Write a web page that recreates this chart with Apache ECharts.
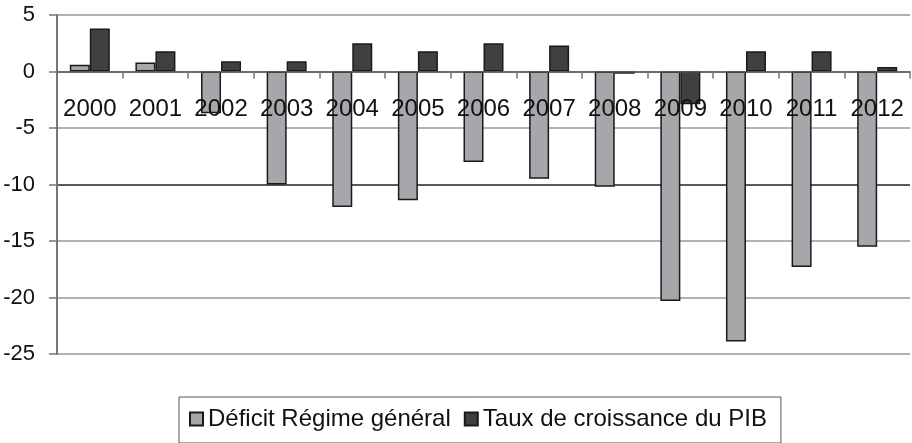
<!DOCTYPE html>
<html style="height: 100%">
   <head>
       <meta charset="utf-8">
   </head>
   <body style="height: 100%; margin: 0; width: 100%; background: #fff;">
       <div id="container" style="height: 100%; width: 100%;"></div>
       <script type="text/javascript" src="https://cdn.jsdelivr.net/npm/echarts@6/dist/echarts.min.js"></script>
       <script type="text/javascript">
var years = ['2000', '2001', '2002', '2003', '2004', '2005', '2006', '2007', '2008', '2009', '2010', '2011', '2012'];
var deficit = [0.6, 0.8, -3.7, -10.0, -12.0, -11.4, -8.0, -9.5, -10.2, -20.3, -23.9, -17.3, -15.5];
var croissance = [3.8, 1.8, 0.9, 0.9, 2.5, 1.8, 2.5, 2.3, -0.2, -2.9, 1.8, 1.8, 0.4];
var seriesNames = ['Déficit Régime général', 'Taux de croissance du PIB'];

var dom = document.getElementById("container");
var myChart = echarts.init(dom);
var font = 'Liberation Sans, Arial, sans-serif';

var option = {
    animation: false,
    grid: {left: 57, right: 2, top: 15, bottom: 89},
    legend: {
        left: 179,
        top: 397,
        padding: [10, 14, 12, 10],
        borderColor: '#555',
        borderWidth: 1,
        icon: 'rect',
        itemWidth: 13,
        itemHeight: 13,
        itemGap: 13,
        textStyle: {fontFamily: font, fontSize: 24, color: '#111'},
        data: seriesNames
    },
    xAxis: [
        {
            // line and ticks on zero
            type: 'category',
            data: years,
            z: 10,
            axisLine: {onZero: true, lineStyle: {color: '#555', width: 1.5}},
            axisTick: {show: true, length: 7, lineStyle: {color: '#777', width: 1.5}},
            axisLabel: {show: false}
        },
        {
            // labels only, moved up under the zero line
            type: 'category',
            data: years,
            position: 'bottom',
            offset: -257,
            z: 10,
            axisLine: {show: false, onZero: false},
            axisTick: {show: false},
            axisLabel: {fontFamily: font, fontSize: 24, color: '#111', margin: 0, interval: 0}
        }
    ],
    yAxis: {
        type: 'value',
        min: -25,
        max: 5,
        interval: 5,
        axisLine: {show: true, lineStyle: {color: '#777', width: 2}},
        axisTick: {show: true, length: 8, lineStyle: {color: '#777', width: 1.5}},
        axisLabel: {fontFamily: font, fontSize: 22, color: '#111', margin: 22},
        splitLine: {lineStyle: {color: ['#999', '#999', '#999', '#222', '#999', '#999', '#999'], width: 1.5}}
    },
    series: [
        {
            name: seriesNames[0],
            type: 'bar',
            barWidth: 20,
            barGap: '0%',
            data: deficit,
            itemStyle: {color: '#a5a7aa', borderColor: '#1a1a1a', borderWidth: 1.5}
        },
        {
            name: seriesNames[1],
            type: 'bar',
            barWidth: 20,
            data: croissance,
            itemStyle: {color: '#404040', borderColor: '#1a1a1a', borderWidth: 1.5}
        }
    ]
};

myChart.setOption(option, true);
       </script>
   </body>
</html>
